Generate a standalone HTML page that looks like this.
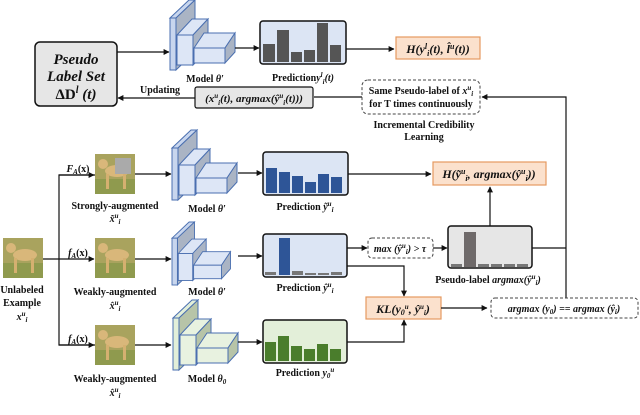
<!DOCTYPE html>
<html><head><meta charset="utf-8"><style>
html,body{margin:0;padding:0;background:#fff;}
svg{display:block;}
text{font-family:"Liberation Serif",serif;font-weight:bold;fill:#111;}
.m{font-style:italic;}
</style></head><body>
<svg width="640" height="415" viewBox="0 0 640 415" xmlns="http://www.w3.org/2000/svg">
<defs>
<marker id="ar" viewBox="0 0 10 10" refX="9" refY="5" markerWidth="5" markerHeight="5" orient="auto"><path d="M0,0 L10,5 L0,10 z" fill="#111"/></marker>
<g id="modelB">
  <polygon points="0,18 19,0 25,0 6,18" fill="#c8d6ee" stroke="#4a6fb0" stroke-width="1"/>
  <polygon points="6,18 25,0 25,52 6,70" fill="#aab4c4" stroke="#4a6fb0" stroke-width="1"/>
  <rect x="0" y="18" width="6" height="52" fill="#c8d6ee" stroke="#4a6fb0" stroke-width="1"/>
  <polygon points="7,35 22,19 38,19 23,35" fill="#dde6f6" stroke="#4a6fb0" stroke-width="1"/>
  <polygon points="23,35 38,19 38,50 23,65" fill="#aab4c4" stroke="#4a6fb0" stroke-width="1"/>
  <rect x="7" y="35" width="16" height="30" fill="#dde6f6" stroke="#4a6fb0" stroke-width="1"/>
  <polygon points="24,48 34,33 65,33 55,48" fill="#dde6f6" stroke="#4a6fb0" stroke-width="1"/>
  <polygon points="55,48 65,33 65,52 55,63" fill="#aab4c4" stroke="#4a6fb0" stroke-width="1"/>
  <rect x="24" y="48" width="31" height="15" fill="#dde6f6" stroke="#4a6fb0" stroke-width="1"/>
</g>
<g id="modelG">
  <polygon points="0,18 19,0 25,0 6,18" fill="#e2efd9" stroke="#4a6fb0" stroke-width="1"/>
  <polygon points="6,18 25,0 25,52 6,70" fill="#b7c4a8" stroke="#4a6fb0" stroke-width="1"/>
  <rect x="0" y="18" width="6" height="52" fill="#e2efd9" stroke="#4a6fb0" stroke-width="1"/>
  <polygon points="7,35 22,19 38,19 23,35" fill="#e8f2e0" stroke="#4a6fb0" stroke-width="1"/>
  <polygon points="23,35 38,19 38,50 23,65" fill="#b7c4a8" stroke="#4a6fb0" stroke-width="1"/>
  <rect x="7" y="35" width="16" height="30" fill="#e8f2e0" stroke="#4a6fb0" stroke-width="1"/>
  <polygon points="24,48 34,33 65,33 55,48" fill="#e8f2e0" stroke="#4a6fb0" stroke-width="1"/>
  <polygon points="55,48 65,33 65,52 55,63" fill="#b7c4a8" stroke="#4a6fb0" stroke-width="1"/>
  <rect x="24" y="48" width="31" height="15" fill="#e8f2e0" stroke="#4a6fb0" stroke-width="1"/>
</g>
<g id="dog">
  <rect x="0" y="0" width="40" height="40" fill="#a9a35e"/>
  <rect x="0" y="25" width="40" height="15" fill="#8f9a4e"/>
  <ellipse cx="22" cy="17" rx="12" ry="6" fill="#d9b77a"/>
  <ellipse cx="8" cy="10" rx="5" ry="5" fill="#d9b77a"/>
  <rect x="11" y="20" width="3" height="15" fill="#d5b070"/>
  <rect x="28" y="20" width="3" height="15" fill="#d5b070"/>
</g>
</defs>

<!-- Pseudo label set -->
<rect x="35" y="42" width="82" height="64" rx="5" fill="#e6e6e6" stroke="#111" stroke-width="1.5"/>
<text x="76" y="64" font-size="15" text-anchor="middle" class="m">Pseudo</text>
<text x="76" y="81" font-size="15" text-anchor="middle" class="m">Label Set</text>
<text x="76" y="99" font-size="15" text-anchor="middle">ΔD<tspan class="m" font-size="10" dy="-6">l</tspan><tspan dy="6" class="m"> (t)</tspan></text>
<line x1="117" y1="52" x2="169" y2="52" stroke="#111" stroke-width="1.2" marker-end="url(#ar)"/>

<!-- top model -->
<use href="#modelB" x="170" y="0"/>
<text x="205" y="82" font-size="10" text-anchor="middle">Model <tspan class="m">θ′</tspan></text>
<line x1="235" y1="48" x2="259" y2="48" stroke="#111" stroke-width="1.2" marker-end="url(#ar)"/>
<rect x="260" y="21" width="86" height="43" rx="3" fill="#dce5f4" stroke="#111" stroke-width="1.5"/>
<g fill="#555">
<rect x="263" y="44" width="12" height="18"/><rect x="277" y="30" width="12" height="32"/><rect x="291" y="52" width="11" height="10"/><rect x="304" y="50" width="11" height="12"/><rect x="317" y="23" width="11" height="39"/><rect x="330" y="45" width="11" height="17"/>
</g>
<text x="303" y="81" font-size="10" text-anchor="middle">Prediction<tspan class="m">y<tspan font-size="7" dy="-4">l</tspan><tspan font-size="7" dy="7">i</tspan><tspan dy="-3">(t)</tspan></tspan></text>
<line x1="346" y1="49" x2="394" y2="49" stroke="#111" stroke-width="1.2" marker-end="url(#ar)"/>
<rect x="396" y="37" width="84" height="22" fill="#fbe1cd" stroke="#e59a60" stroke-width="1.2"/>
<text x="438" y="53" font-size="12" text-anchor="middle" class="m">H(y<tspan font-size="8" dy="-4">l</tspan><tspan font-size="8" dy="7">i</tspan><tspan dy="-3">(t), l̂</tspan><tspan font-size="8" dy="-4">u</tspan><tspan dy="4">(t))</tspan></text>

<!-- Updating row -->
<text x="160" y="93" font-size="10" text-anchor="middle">Updating</text>
<line x1="195" y1="98" x2="118" y2="98" stroke="#111" stroke-width="1.2" marker-end="url(#ar)"/>
<rect x="195" y="87" width="118" height="21" rx="2" fill="#e6e6e6" stroke="#111" stroke-width="1.2"/>
<text x="254" y="102" font-size="11" text-anchor="middle" class="m">(x<tspan font-size="7" dy="-4">u</tspan><tspan font-size="7" dy="7">i</tspan><tspan dy="-3">(t), argmax(ŷ</tspan><tspan font-size="7" dy="-4">u</tspan><tspan font-size="7" dy="7">i</tspan><tspan dy="-3">(t)))</tspan></text>
<line x1="362" y1="97" x2="314" y2="97" stroke="#111" stroke-width="1.2"/>
<rect x="362" y="80" width="118" height="34" rx="6" fill="#fff" stroke="#444" stroke-width="1" stroke-dasharray="3,2"/>
<text x="421" y="94" font-size="10" text-anchor="middle">Same Pseudo-label of <tspan class="m">x<tspan font-size="7" dy="-4">u</tspan><tspan font-size="7" dy="6">i</tspan></tspan></text>
<text x="421" y="107" font-size="10" text-anchor="middle">for T times continuously</text>
<text x="424" y="128" font-size="10" text-anchor="middle">Incremental Credibility</text>
<text x="424" y="140" font-size="10" text-anchor="middle">Learning</text>
<polyline points="566,298 566,97 482,97" fill="none" stroke="#111" stroke-width="1.2" marker-end="url(#ar)"/>

<!-- branches -->
<polyline points="95,175 59,175 59,345 95,345" fill="none" stroke="#111" stroke-width="1.2"/>
<line x1="42" y1="259" x2="94" y2="259" stroke="#111" stroke-width="1.2" marker-end="url(#ar)"/>
<line x1="59" y1="175" x2="94" y2="175" stroke="#111" stroke-width="1.2" marker-end="url(#ar)"/>
<line x1="59" y1="345" x2="94" y2="345" stroke="#111" stroke-width="1.2" marker-end="url(#ar)"/>
<text x="78" y="172" font-size="10" text-anchor="middle" class="m">F<tspan font-size="7" dy="2">A</tspan><tspan dy="-2" font-style="normal">(x)</tspan></text>
<text x="78" y="256" font-size="10" text-anchor="middle" class="m">f<tspan font-size="7" dy="2">A</tspan><tspan dy="-2" font-style="normal">(x)</tspan></text>
<text x="78" y="342" font-size="10" text-anchor="middle" class="m">f<tspan font-size="7" dy="2">A</tspan><tspan dy="-2" font-style="normal">(x)</tspan></text>

<use href="#dog" x="3" y="238"/>
<text x="22" y="293" font-size="10" text-anchor="middle">Unlabeled</text>
<text x="22" y="306" font-size="10" text-anchor="middle">Example</text>
<text x="22" y="320" font-size="10" text-anchor="middle" class="m">x<tspan font-size="7" dy="-4">u</tspan><tspan font-size="7" dy="6">i</tspan></text>

<!-- strong row -->
<use href="#dog" x="95" y="154"/>
<rect x="115" y="158" width="16" height="16" fill="#aaaaaa"/>
<text x="115" y="209" font-size="10" text-anchor="middle">Strongly-augmented</text>
<text x="115" y="222" font-size="10" text-anchor="middle" class="m">x̃<tspan font-size="7" dy="-4">u</tspan><tspan font-size="7" dy="6">i</tspan></text>
<line x1="135" y1="174" x2="171" y2="174" stroke="#111" stroke-width="1.2" marker-end="url(#ar)"/>
<use href="#modelB" x="172" y="130"/>
<text x="207" y="212" font-size="10" text-anchor="middle">Model <tspan class="m">θ′</tspan></text>
<line x1="238" y1="173" x2="262" y2="173" stroke="#111" stroke-width="1.2" marker-end="url(#ar)"/>
<rect x="263" y="152" width="85" height="43" rx="3" fill="#dce5f4" stroke="#111" stroke-width="1.5"/>
<g fill="#2e5597">
<rect x="266" y="168" width="11" height="25"/><rect x="279" y="172" width="11" height="21"/><rect x="292" y="176" width="11" height="17"/><rect x="305" y="182" width="11" height="11"/><rect x="318" y="174" width="11" height="19"/><rect x="331" y="177" width="11" height="16"/>
</g>
<text x="305" y="210" font-size="10" text-anchor="middle">Prediction <tspan class="m">ỹ<tspan font-size="7" dy="-4">u</tspan><tspan font-size="7" dy="6">i</tspan></tspan></text>
<line x1="348" y1="174" x2="431" y2="174" stroke="#111" stroke-width="1.2" marker-end="url(#ar)"/>
<rect x="433" y="162" width="113" height="23" fill="#fbe1cd" stroke="#e59a60" stroke-width="1.2"/>
<text x="489" y="178" font-size="12" text-anchor="middle" class="m">H(ỹ<tspan font-size="8" dy="-4">u</tspan><tspan font-size="8" dy="7">i</tspan><tspan dy="-3">, argmax(ŷ</tspan><tspan font-size="8" dy="-4">u</tspan><tspan font-size="8" dy="7">i</tspan><tspan dy="-3">))</tspan></text>
<line x1="490" y1="226" x2="490" y2="187" stroke="#111" stroke-width="1.2" marker-end="url(#ar)"/>

<!-- weak row -->
<use href="#dog" x="95" y="238"/>
<text x="115" y="295" font-size="10" text-anchor="middle">Weakly-augmented</text>
<text x="115" y="309" font-size="10" text-anchor="middle" class="m">x̂<tspan font-size="7" dy="-4">u</tspan><tspan font-size="7" dy="6">i</tspan></text>
<line x1="135" y1="259" x2="171" y2="259" stroke="#111" stroke-width="1.2" marker-end="url(#ar)"/>
<use href="#modelB" transform="translate(172,222) scale(0.9)"/>
<text x="207" y="295" font-size="10" text-anchor="middle">Model <tspan class="m">θ′</tspan></text>
<line x1="238" y1="256" x2="262" y2="256" stroke="#111" stroke-width="1.2" marker-end="url(#ar)"/>
<rect x="263" y="234" width="84" height="43" rx="3" fill="#dce5f4" stroke="#111" stroke-width="1.5"/>
<g fill="#777"><rect x="265" y="272" width="11" height="3"/><rect x="292" y="271" width="11" height="4"/><rect x="305" y="273" width="11" height="2"/><rect x="318" y="273" width="11" height="2"/><rect x="331" y="272" width="11" height="3"/></g>
<rect x="279" y="238" width="11" height="37" fill="#2e5597"/>
<text x="305" y="291" font-size="10" text-anchor="middle">Prediction <tspan class="m">ŷ<tspan font-size="7" dy="-4">u</tspan><tspan font-size="7" dy="6">i</tspan></tspan></text>
<line x1="347" y1="248" x2="367" y2="248" stroke="#111" stroke-width="1.2" marker-end="url(#ar)"/>
<rect x="368" y="238" width="65" height="20" rx="4" fill="#fff" stroke="#444" stroke-width="1" stroke-dasharray="3,2"/>
<text x="400" y="252" font-size="10" text-anchor="middle" class="m">max (ŷ<tspan font-size="7" dy="-4">u</tspan><tspan font-size="7" dy="6">i</tspan><tspan dy="-2">) &gt; τ</tspan></text>
<line x1="433" y1="248" x2="447" y2="248" stroke="#111" stroke-width="1.2" marker-end="url(#ar)"/>
<rect x="448" y="226" width="84" height="42" rx="3" fill="#e6e6e6" stroke="#111" stroke-width="1.5"/>
<g fill="#777"><rect x="451" y="264" width="11" height="3"/><rect x="478" y="264" width="11" height="3"/><rect x="491" y="264" width="11" height="3"/><rect x="504" y="264" width="11" height="3"/><rect x="517" y="264" width="11" height="3"/></g>
<rect x="464" y="232" width="12" height="35" fill="#6f6a6a"/>
<text x="488" y="283" font-size="10" text-anchor="middle">Pseudo-label <tspan class="m">argmax(ŷ<tspan font-size="7" dy="-4">u</tspan><tspan font-size="7" dy="6">i</tspan><tspan dy="-2">)</tspan></tspan></text>
<line x1="532" y1="248" x2="566" y2="248" stroke="#111" stroke-width="1.2"/>

<!-- KL -->
<polyline points="347,266 404,266 404,296" fill="none" stroke="#111" stroke-width="1.2" marker-end="url(#ar)"/>
<polyline points="347,342 404,342 404,320" fill="none" stroke="#111" stroke-width="1.2" marker-end="url(#ar)"/>
<rect x="366" y="297" width="75" height="22" fill="#fbe1cd" stroke="#e59a60" stroke-width="1.2"/>
<text x="403" y="313" font-size="12" text-anchor="middle" class="m">KL(y<tspan font-size="8" dy="2">0</tspan><tspan font-size="7" dy="-6">u</tspan><tspan dy="4">, ŷ</tspan><tspan font-size="7" dy="-4">u</tspan><tspan font-size="7" dy="6">i</tspan><tspan dy="-2">)</tspan></text>
<line x1="441" y1="308" x2="487" y2="308" stroke="#111" stroke-width="1.2" marker-end="url(#ar)"/>
<rect x="491" y="298" width="147" height="20" rx="4" fill="#fff" stroke="#444" stroke-width="1" stroke-dasharray="3,2"/>
<text x="564" y="312" font-size="10" text-anchor="middle" class="m">argmax (y<tspan font-size="7" dy="2">0</tspan><tspan dy="-2">) == argmax (ŷ</tspan><tspan font-size="7" dy="2">i</tspan><tspan dy="-2">)</tspan></text>

<!-- bottom row -->
<use href="#dog" x="95" y="325"/>
<text x="115" y="382" font-size="10" text-anchor="middle">Weakly-augmented</text>
<text x="115" y="396" font-size="10" text-anchor="middle" class="m">x̂<tspan font-size="7" dy="-4">u</tspan><tspan font-size="7" dy="6">i</tspan></text>
<line x1="135" y1="345" x2="171" y2="345" stroke="#111" stroke-width="1.2" marker-end="url(#ar)"/>
<use href="#modelG" x="173" y="300"/>
<text x="207" y="382" font-size="10" text-anchor="middle">Model <tspan class="m">θ<tspan font-size="7" dy="2">0</tspan></tspan></text>
<line x1="238" y1="342" x2="262" y2="342" stroke="#111" stroke-width="1.2" marker-end="url(#ar)"/>
<rect x="263" y="320" width="84" height="43" rx="3" fill="#e3efd9" stroke="#111" stroke-width="1.5"/>
<g fill="#4a7d2c">
<rect x="265" y="342" width="11" height="19"/><rect x="278" y="336" width="11" height="25"/><rect x="291" y="346" width="11" height="15"/><rect x="304" y="349" width="11" height="12"/><rect x="317" y="344" width="11" height="17"/><rect x="330" y="349" width="11" height="12"/>
</g>
<text x="305" y="376" font-size="10" text-anchor="middle">Prediction <tspan class="m">y<tspan font-size="7" dy="2">0</tspan><tspan font-size="7" dy="-6">u</tspan></tspan></text>
</svg>
</body></html>
